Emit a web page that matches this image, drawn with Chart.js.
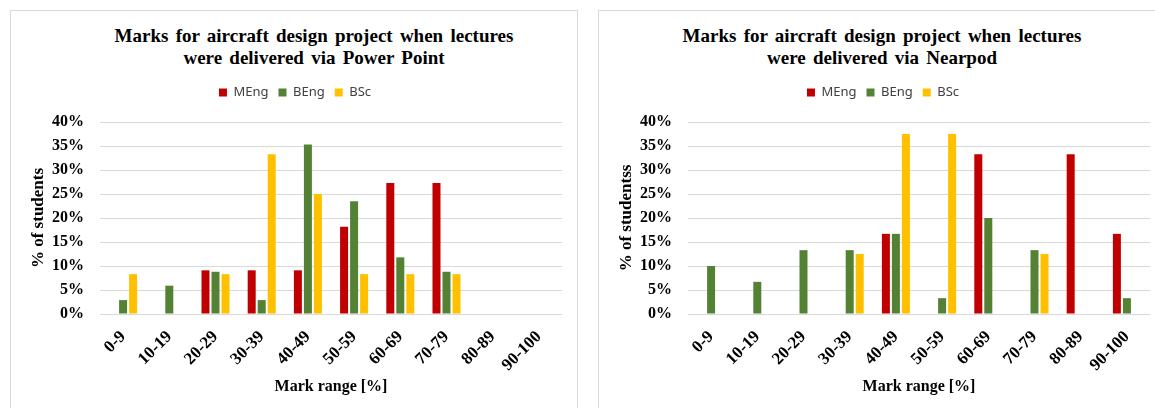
<!DOCTYPE html>
<html>
<head>
<meta charset="utf-8">
<script src="https://cdn.jsdelivr.net/npm/chart.js@4/dist/chart.umd.min.js"></script>
<style>
  html, body { margin: 0; padding: 0; background: #fff; overflow: hidden; width: 1155px; height: 408px; }
  .frame { position: absolute; top: 10px; height: 420px; border: 1px solid #d9d9d9; box-sizing: border-box; }
  .holder { position: absolute; top: 0; width: 567px; height: 408px; }
  .title { position: absolute; top: 25px; width: 560px; text-align: center;
           font-family: "Liberation Serif", "Times New Roman", serif; font-weight: bold;
           font-size: 19px; line-height: 22px; word-spacing: 2.5px; color: #000; white-space: nowrap; }
</style>
</head>
<body>
<div class="frame" style="left:10px; width:568px;"></div>
<div class="frame" style="left:598px; width:568px;"></div>
<div class="title" style="left:34px;">Marks for aircraft design project when lectures<br>were delivered via Power Point</div>
<div class="title" style="left:602px;">Marks for aircraft design project when lectures<br>were delivered via Nearpod</div>
<div class="holder" style="left:10px;"><canvas id="c1"></canvas></div>
<div class="holder" style="left:598px;"><canvas id="c2"></canvas></div>
<script>
const categories = ['0-9','10-19','20-29','30-39','40-49','50-59','60-69','70-79','80-89','90-100'];
const seriesNames = ['MEng','BEng','BSc'];
const seriesColors = ['#C00000','#548235','#FFC000'];

// Power Point lectures (% of students)
const ppMEng = [0, 0, 9.1, 9.1, 9.1, 18.2, 27.3, 27.3, 0, 0];
const ppBEng = [2.9, 5.9, 8.8, 2.9, 35.3, 23.5, 11.8, 8.8, 0, 0];
const ppBSc  = [8.3, 0, 8.3, 33.3, 25.0, 8.3, 8.3, 8.3, 0, 0];

// Nearpod lectures (% of students)
const npMEng = [0, 0, 0, 0, 16.7, 0, 33.3, 0, 33.3, 16.7];
const npBEng = [10.0, 6.7, 13.3, 13.3, 16.7, 3.3, 20.0, 13.3, 0, 3.3];
const npBSc  = [0, 0, 0, 12.5, 37.5, 37.5, 0, 12.5, 0, 0];

const yMin = 0, yMax = 40, yStep = 5;

const SERIF = '"Liberation Serif", "Times New Roman", serif';
const LEGEND_H = 46;

const legendSpacer = {
  id: 'legendSpacer',
  beforeLayout(chart) {
    const lg = chart.legend;
    if (lg && !lg._patched) {
      const orig = lg.fit;
      lg.fit = function () { orig.call(this); this.height = LEGEND_H; };
      lg._patched = true;
    }
  }
};

function makeChart(id, values, yTitle) {
  const datasets = values.map((v, i) => ({
    label: seriesNames[i],
    data: v,
    backgroundColor: seriesColors[i],
    borderWidth: 0,
    categoryPercentage: 0.65,
    barPercentage: 0.8
  }));
  return new Chart(document.getElementById(id), {
    type: 'bar',
    data: { labels: categories, datasets },
    plugins: [legendSpacer],
    options: {
      responsive: true,
      maintainAspectRatio: false,
      animation: false,
      events: [],
      layout: { padding: { top: 76, left: 18, right: 15, bottom: 12 } },
      plugins: {
        title: { display: false },
        tooltip: { enabled: false },
        legend: {
          display: true,
          position: 'top',
          labels: {
            boxWidth: 8, boxHeight: 8, padding: 10,
            color: '#404040',
            font: { family: '"Noto Sans", "Liberation Sans", sans-serif', size: 13 }
          }
        }
      },
      scales: {
        x: {
          grid: { display: false },
          border: { display: false },
          ticks: {
            autoSkip: false, minRotation: 45, maxRotation: 45, padding: 5,
            color: '#000',
            font: { family: SERIF, size: 17, weight: 'bold' }
          },
          title: {
            display: true, text: 'Mark range [%]', color: '#000', padding: 0,
            font: { family: SERIF, size: 16, weight: 'bold' }
          },
          afterFit(scale) { scale.height = 82; }
        },
        y: {
          min: yMin, max: yMax,
          grid: { color: '#d9d9d9', lineWidth: 1, drawTicks: false },
          border: { display: false },
          ticks: {
            stepSize: yStep, padding: 16, color: '#000',
            font: { family: SERIF, size: 16, weight: 'bold' },
            callback: v => v + '%'
          },
          title: {
            display: true, text: yTitle, color: '#000', padding: 0,
            font: { family: SERIF, size: 17, weight: 'bold' }
          },
          afterFit(scale) { scale.width = 72; }
        }
      }
    }
  });
}

makeChart('c1', [ppMEng, ppBEng, ppBSc], '% of students');
makeChart('c2', [npMEng, npBEng, npBSc], '% of studentss');
</script>
</body>
</html>
